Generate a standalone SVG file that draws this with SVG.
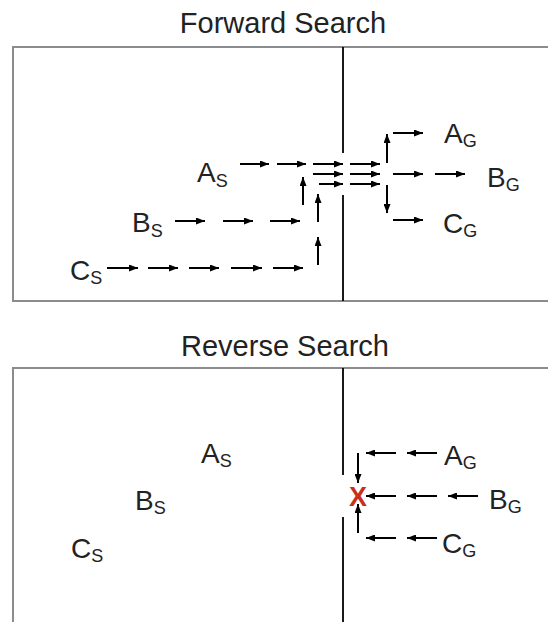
<svg xmlns="http://www.w3.org/2000/svg" width="548" height="622" viewBox="0 0 548 622">
<style>
.title{font-family:"Liberation Sans",Arial,sans-serif;font-size:29px;fill:#222;text-anchor:middle}
.lbl{font-family:"Liberation Sans",Arial,sans-serif;font-size:28px;fill:#222}
.sub{font-size:18px}
.panel{fill:none;stroke:#8a8d90;stroke-width:2}
.div{stroke:#000;stroke-width:1.8}
.arr{stroke:#000;stroke-width:2;fill:none;marker-end:url(#ah)}
.x{font-family:"Liberation Sans",Arial,sans-serif;font-size:27px;font-weight:bold;fill:#c9301c;text-anchor:middle}
</style>
<defs>
<marker id="ah" markerUnits="userSpaceOnUse" markerWidth="9" markerHeight="7" refX="9" refY="3.5" orient="auto">
<path d="M0,0 L9,3.5 L0,7 z" fill="#000"/>
</marker>
</defs>
<rect width="548" height="622" fill="#fff"/>

<g id="forward-panel">
<text class="title" x="283" y="33">Forward Search</text>
<path class="panel" d="M549,47 H13 V301 H549"/>
<line class="div" x1="343" y1="47" x2="343" y2="153"/>
<line class="div" x1="343" y1="195" x2="343" y2="301"/>
</g>

<g id="reverse-panel">
<text class="title" x="285" y="356">Reverse Search</text>
<path class="panel" d="M549,368 H13 V623"/>
<line class="div" x1="343" y1="368" x2="343" y2="475"/>
<line class="div" x1="343" y1="517" x2="343" y2="623"/>
</g>

<g id="f-AS"><text class="lbl" x="197" y="182">A<tspan class="sub" dy="5">S</tspan></text></g>
<g id="f-BS"><text class="lbl" x="132" y="232">B<tspan class="sub" dy="5">S</tspan></text></g>
<g id="f-CS"><text class="lbl" x="70" y="280">C<tspan class="sub" dy="4">S</tspan></text></g>
<g id="f-AG"><text class="lbl" x="444" y="143">A<tspan class="sub" dy="4">G</tspan></text></g>
<g id="f-BG"><text class="lbl" x="487" y="187">B<tspan class="sub" dy="4">G</tspan></text></g>
<g id="f-CG"><text class="lbl" x="443" y="233">C<tspan class="sub" dy="4">G</tspan></text></g>

<g id="r-AS"><text class="lbl" x="201" y="463">A<tspan class="sub" dy="4">S</tspan></text></g>
<g id="r-BS"><text class="lbl" x="135" y="510">B<tspan class="sub" dy="4">S</tspan></text></g>
<g id="r-CS"><text class="lbl" x="71" y="558">C<tspan class="sub" dy="4">S</tspan></text></g>
<g id="r-AG"><text class="lbl" x="444" y="465">A<tspan class="sub" dy="4">G</tspan></text></g>
<g id="r-BG"><text class="lbl" x="489" y="509">B<tspan class="sub" dy="4">G</tspan></text></g>
<g id="r-CG"><text class="lbl" x="442" y="553">C<tspan class="sub" dy="4">G</tspan></text></g>
<g id="r-X"><text class="x" x="358" y="506">X</text></g>

<g id="connectors">
<line class="arr" x1="240" y1="164" x2="269" y2="164"/>
<line class="arr" x1="277" y1="164" x2="306" y2="164"/>
<line class="arr" x1="313" y1="164" x2="343" y2="164"/>
<line class="arr" x1="350" y1="164" x2="380" y2="164"/>
<line class="arr" x1="313" y1="174" x2="343" y2="174"/>
<line class="arr" x1="350" y1="174" x2="380" y2="174"/>
<line class="arr" x1="319" y1="184" x2="343" y2="184"/>
<line class="arr" x1="350" y1="184" x2="380" y2="184"/>
<line class="arr" x1="303" y1="205" x2="303" y2="177"/>
<line class="arr" x1="318" y1="222" x2="318" y2="194"/>
<line class="arr" x1="318" y1="265" x2="318" y2="237"/>
<line class="arr" x1="175" y1="221" x2="205" y2="221"/>
<line class="arr" x1="223" y1="221" x2="253" y2="221"/>
<line class="arr" x1="270" y1="221" x2="300" y2="221"/>
<line class="arr" x1="107" y1="268" x2="138" y2="268"/>
<line class="arr" x1="148" y1="268" x2="178" y2="268"/>
<line class="arr" x1="189" y1="268" x2="219" y2="268"/>
<line class="arr" x1="231" y1="268" x2="262" y2="268"/>
<line class="arr" x1="273" y1="268" x2="303" y2="268"/>
<line class="arr" x1="387" y1="163" x2="387" y2="134"/>
<line class="arr" x1="387" y1="185" x2="387" y2="213"/>
<line class="arr" x1="393" y1="133" x2="423" y2="133"/>
<line class="arr" x1="393" y1="174" x2="423" y2="174"/>
<line class="arr" x1="435" y1="174" x2="465" y2="174"/>
<line class="arr" x1="393" y1="220" x2="423" y2="220"/>
<line class="arr" x1="396" y1="453" x2="366" y2="453"/>
<line class="arr" x1="437" y1="453" x2="407" y2="453"/>
<line class="arr" x1="396" y1="496" x2="366" y2="496"/>
<line class="arr" x1="437" y1="496" x2="407" y2="496"/>
<line class="arr" x1="478" y1="496" x2="448" y2="496"/>
<line class="arr" x1="396" y1="538" x2="366" y2="538"/>
<line class="arr" x1="437" y1="538" x2="407" y2="538"/>
<line class="arr" x1="358" y1="453" x2="358" y2="483"/>
<line class="arr" x1="358" y1="533" x2="358" y2="504"/>
</g>
</svg>
